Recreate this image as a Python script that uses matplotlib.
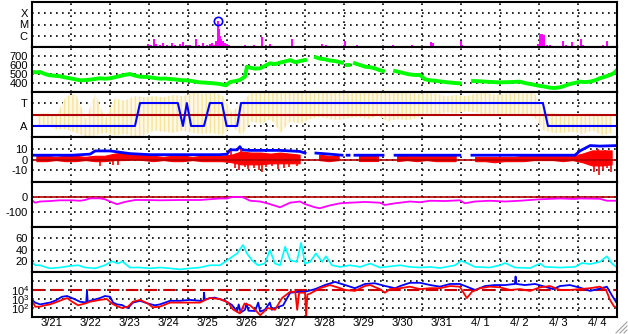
import numpy as np
import matplotlib.pyplot as plt
from matplotlib.lines import Line2D
from matplotlib.ticker import NullLocator

plt.rcParams['font.family'] = ['Liberation Sans', 'DejaVu Sans']
plt.rcParams['mathtext.fontset'] = 'custom'
plt.rcParams['mathtext.rm'] = 'Liberation Sans'
plt.rcParams['hatch.linewidth'] = 1.0

nan = np.nan

# time axis in days since 3/21 00:00
days = ['3/21', '3/22', '3/23', '3/24', '3/25', '3/26', '3/27', '3/28', '3/29',
        '3/30', '3/31', '4/ 1', '4/ 2', '4/ 3', '4/ 4']

# x-ray flares (0=B, 1=C, 2=M, 3=X)
flare_t = [2.97, 3.05, 3.12, 3.18, 3.28, 3.36, 3.46, 3.59, 3.67, 3.79, 3.87, 3.95, 4.05,
           4.20, 4.28, 4.38, 4.49, 4.56, 4.62, 4.67, 4.72, 4.78, 4.79, 4.82, 4.85, 4.90,
           4.95, 5.00, 5.05, 5.46, 5.69, 5.89, 6.10, 6.67, 7.43, 7.54, 8.02, 8.33, 9.26,
           9.74, 10.23, 10.28, 10.61, 10.99, 11.03, 11.85, 12.69, 12.97, 13.03, 13.08,
           13.13, 13.21, 13.28, 13.62, 13.69, 13.85, 14.08, 14.13, 14.63, 14.74]
flare_h = [0.3, 0.15, 0.68, 0.25, 0.15, 0.4, 0.2, 0.35, 0.15, 0.25, 0.45, 0.2, 0.15,
           0.7, 0.2, 0.35, 0.15, 0.25, 0.4, 0.2, 0.5, 2.3, 1.6, 1.0, 0.7, 0.5,
           0.35, 0.3, 0.2, 0.2, 0.15, 0.86, 0.3, 0.68, 0.3, 0.2, 0.5, 0.2, 0.2,
           0.2, 0.44, 0.35, 0.1, 0.53, 0.2, 0.1, 0.1, 0.3, 1.18, 1.18,
           1.1, 0.15, 0.15, 0.5, 0.2, 0.45, 0.7, 0.2, 0.2, 0.5]
peak_t, peak_h = 4.78, 2.3

# solar wind speed (km/s)
vsw_t = [0, 0.1, 0.21, 0.33, 0.46, 0.6, 0.72, 0.85, 1.03, 1.12, 1.23, 1.36, 1.49, 1.62, 1.74,
         1.87, 2.0, 2.13, 2.26, 2.38, 2.51, 2.64, 2.77, 2.9, 3.03, 3.15, 3.28, 3.41, 3.54,
         3.67, 3.79, 3.92, 4.05, 4.18, 4.31, 4.44, 4.56, 4.69, 4.82, 4.97, 5.08, 5.2, 5.33,
         5.46, 5.51, 5.59, 5.72, 5.85, 5.97, 6.1, 6.23, 6.36, 6.49, 6.62, 6.75, 6.87, 7.0,
         7.1, 7.28, 7.4, 7.51, 7.64, 7.77, 7.95, 8.0, 8.08, 8.12, 8.2, 8.28, 8.41, 8.54,
         8.67, 8.79, 8.9, 9.0, 9.1, 9.31, 9.44, 9.56, 9.69, 9.82, 9.95, 10.08, 10.2, 10.33,
         10.46, 10.59, 10.72, 10.85, 10.97, 11.1, 11.31, 11.49, 11.74, 12.0, 12.26, 12.51,
         12.64, 12.77, 12.9, 13.03, 13.15, 13.28, 13.41, 13.54, 13.67, 13.79, 13.92, 14.05,
         14.18, 14.31, 14.44, 14.56, 14.69, 14.82, 14.92, 15.0]
vsw = [525, 518, 522, 500, 485, 480, 475, 462, 448, 440, 430, 432, 437, 445, 452,
       448, 452, 465, 478, 490, 500, 482, 470, 468, 463, 455, 448, 450, 444,
       440, 433, 430, 426, 415, 407, 404, 400, 395, 389, 374, 411, 420, 433,
       470, 581, 570, 560, 563, 590, 619, 610, 626, 640, 655, 630, 644, 655,
       nan, 685, 670, 663, 650, 644, 626, nan, 600, 600, nan, 619, 600, 581,
       575, 563, 545, 533, nan, 533, 520, 507, 495, 489, 489, 441, 430, 426,
       418, 411, 405, 400, 396, nan, 422, 419, 412, 407, 410, 415,
       400, 389, 378, 367, 360, 348, 345, 352, 370, 389, 400, 415,
       410, 415, 430, 452, 470, 489, 510, 544]

# IMF classification scatter band (A=0, T=1), six-hour bins
imf_lo = [0.0, 0.05, -0.15, -0.15, -0.3, -0.45, -0.4, -0.3, -0.4, -0.35,
          -0.45, -0.4, -0.2, -0.25, -0.3, -0.2, -0.3, -0.35, -0.3, -0.4,
          0.0, -0.4, 0.2, 0.1, 0.3, -0.3, 0.2, 0.1, 0.3, 0.4,
          0.3, 0.25, 0.35, 0.4, 0.3, 0.45, 0.2, 0.3, 0.25, 0.35,
          0.55, 0.5, 0.6, 0.55, 0.65, 0.6, 0.5, 0.55, 0.5, 0.45,
          0.5, 0.4, -0.2, -0.3, -0.3, -0.25, -0.35, -0.2, -0.4, -0.3]
imf_hi = [0.5, 0.55, 0.45, 1.3, 1.4, 0.3, 1.4, 0.3, 1.2, 1.1,
          1.3, 1.25, 1.3, 1.25, 1.35, 1.3, 1.45, 1.4, 1.45, 1.35,
          0.6, 1.0, 1.48, 1.48, 1.48, 1.48, 1.48, 1.48, 1.48, 1.45,
          1.48, 1.48, 1.4, 1.48, 1.45, 1.48, 1.48, 1.45, 1.48, 1.4,
          1.43, 1.4, 1.3, 1.35, 1.3, 1.4, 1.45, 1.35, 1.4, 1.45,
          1.4, 1.48, 0.6, 0.55, 0.5, 0.45, 0.5, 0.55, 0.45, 0.5]
sector_t = [0, 2.64, 2.77, 3.74, 3.87, 3.97, 4.08, 4.18, 4.23, 4.41, 4.56, 4.87, 4.99,
            5.26, 5.36, 13.1, 13.23, 13.62]
sector = [0, 0, 1, 1, 0, 1, 0, 0, 0, 0, 1, 1, 0, 0, 1, 1, 0, 0]
sector_ref = 0.5

# IMF Bt and Bz (nT), Bz as six-hour min/max plus the larger spikes
bt_t = [0, 1.03, 1.49, 1.62, 2.0, 2.21, 2.51, 2.77, 3.03, 4.05, 4.82, 5.0, 5.08, 5.26, 5.33,
        5.38, 5.59, 6.36, 6.87, 7.0, 7.1, 7.28, 7.64, 7.95, 8.0, 8.08, 8.13, 8.2, 8.28,
        9.0, 9.1, 9.31, 10.97, 11.1, 11.28, 13.92, 14.05, 14.31, 14.56, 15.0]
bt = [4, 4, 5, 8, 8, 7, 5.5, 5, 4.5, 4.5, 4.5, 5, 9, 9, 12,
      9, 8.5, 8.5, 7.5, 6, nan, 6, 5, 4, nan, 4, 4, nan, 4,
      4, nan, 4, 4, nan, 4, 4, 8, 13, 12.5, 13]
bz_lo = [-2, -2, -1, -2, -2, -1, -2, -2, -1, -1, 0, -1, -2, -1, -2, -2, -1, -2, -2, -2,
         -3, -5, -5, -5, -4, -4, -4, -4, nan, -1, -2, -1, nan, -1, -1, -1, nan, -2, -1, -2,
         -1, -2, -2, -2, nan, -2, -2, -3, -2, -2, -2, -1, -1, -1, -2, -1, -3, -6, -6, -5]
bz_hi = [3, 3, 2, 3, 3, 2, 3, 3, 5, 6, 5, 4, 3, 2, 3, 3, 2, 3, 3, 3,
         4, 7, 6, 6, 5, 6, 5, 4, nan, 4, 3, 3, nan, 3, 3, 3, nan, 4, 3, 3,
         3, 3, 3, 3, nan, 2, 2, 2, 2, 2, 3, 3, 3, 3, 3, 3, 5, 8, 8, 8]
bz_spike_t = [1.74, 2.08, 2.2, 5.1, 5.2, 5.3, 5.36, 5.45, 5.55, 5.7, 5.82, 5.9, 6.0, 6.15,
              6.3, 6.45, 6.6, 6.8, 14.4, 14.5, 14.55, 14.65, 14.7, 14.75, 14.85]
bz_spike = [-6, -5, -5, 8, -8, -10, 10, -7, -9, -8, -10, -12, -7, -6,
            -9, -8, -7, -6, -12, 10, -14, -10, 9, -8, -12]

# Dst (nT)
dst_t = [0, 0.08, 0.21, 0.46, 0.72, 1.03, 1.23, 1.36, 1.49, 1.74, 1.87, 2.0, 2.18, 2.38,
         2.64, 2.97, 3.28, 3.79, 4.31, 4.56, 4.82, 5.0, 5.13, 5.38, 5.46, 5.59, 5.85, 6.1,
         6.36, 6.49, 6.62, 6.87, 7.0, 7.26, 7.38, 7.64, 7.9, 8.15, 8.54, 8.92, 9.05, 9.31,
         9.69, 9.95, 10.21, 10.59, 10.97, 11.1, 11.36, 11.74, 12.13, 12.51, 13.03, 13.54,
         13.92, 14.05, 14.56, 14.74, 15.0]
dst = [-22, -38, -30, -27, -22, -22, -25, -20, -9, -9, -15, -30, -48, -33,
       -20, -20, -22, -20, -20, -15, -10, -10, 0, 0, -8, -25, -30, -47,
       -69, -53, -38, -30, -47, -69, -75, -56, -42, -38, -33, -38, -53, -42,
       -30, -35, -25, -27, -22, -42, -30, -25, -30, -25, -15, -10,
       -13, -10, -12, -25, -25]

# proton density (p/cc)
np_t = [0, 0.08, 0.21, 0.33, 0.46, 0.72, 0.97, 1.18, 1.36, 1.62, 1.87, 2.05, 2.21, 2.31,
        2.51, 2.77, 3.03, 3.28, 3.54, 3.79, 4.05, 4.31, 4.56, 4.82, 4.95, 5.13, 5.26,
        5.41, 5.51, 5.64, 5.79, 5.97, 6.1, 6.23, 6.36, 6.49, 6.62, 6.79, 6.9, 7.0, 7.13,
        7.28, 7.44, 7.54, 7.69, 7.9, 8.15, 8.41, 8.67, 8.92, 9.18, 9.44, 9.69, 9.95,
        10.21, 10.46, 10.85, 11.0, 11.18, 11.36, 11.74, 12.0, 12.13, 12.38, 12.77, 13.03,
        13.15, 13.54, 13.92, 14.1, 14.31, 14.56, 14.74, 14.87, 15.0]
dens = [18, 12, 12, 9, 6.5, 8, 10.7, 12, 8, 6.5, 12, 19, 15, 19,
        8, 8, 6.5, 8, 6.5, 4.7, 6.5, 8, 12, 12, 18, 27, 33,
        48, 33, 21, 12, 15, 39, 15, 12, 45, 21, 18, 52, 15, 18,
        33, 18, 28, 12, 9, 12, 9, 15, 8, 10, 12, 9, 8,
        9, 7, 12, 20, 15, 9, 8, 12, 16, 8, 7, 15,
        9, 8, 9, 16, 14, 18, 28, 15, 8]

# electron flux, log10 values (blue and red channels)
eb_t = [0, 0.08, 0.21, 0.33, 0.46, 0.59, 0.77, 0.9, 1.03, 1.23, 1.39, 1.41, 1.43, 1.49,
        1.74, 1.87, 2.0, 2.08, 2.18, 2.31, 2.38, 2.46, 2.59, 2.77, 2.97, 3.15, 3.28, 3.54,
        3.79, 4.05, 4.31, 4.4, 4.41, 4.43, 4.56, 4.69, 4.95, 5.13, 5.26, 5.3, 5.35, 5.46,
        5.5, 5.55, 5.72, 5.8, 5.85, 5.97, 6.1, 6.15, 6.23, 6.44, 6.62, 6.87, 7.0, 7.26,
        7.51, 7.77, 8.03, 8.28, 8.54, 8.79, 9.05, 9.31, 9.44, 9.69, 9.95, 10.21, 10.46,
        10.72, 10.97, 11.15, 11.36, 11.62, 11.87, 12.13, 12.38, 12.4, 12.42, 12.64, 12.9,
        13.15, 13.36, 13.54, 13.79, 14.05, 14.31, 14.56, 14.74, 14.87, 15.0]
eb_log = [2.9, 2.6, 2.4, 2.5, 2.6, 2.8, 3.25, 3.33, 3.1, 2.7, 2.6, 3.9, 2.65, 2.8,
          3.1, 3.33, 3.25, 2.6, 2.4, 2.33, 2.15, 2.0, 2.6, 2.8, 2.5, 2.3, 2.4, 2.8,
          2.8, 2.9, 2.8, 2.8, 3.7, 2.9, 3.1, 3.15, 2.8, 2.33, 1.6, 2.4, 1.5, 1.8,
          2.5, 1.7, 1.67, 2.6, 1.6, 1.8, 2.6, 1.8, 2.0, 2.3, 3.7, 3.8, 3.8, 4.1,
          4.55, 4.9, 4.55, 4.2, 4.67, 4.75, 4.45, 4.2, 4.44, 4.8, 4.8, 4.55, 4.37,
          4.67, 4.67, 4.37, 4.0, 4.44, 4.55, 4.55, 4.67, 5.5, 4.67, 4.55, 4.67,
          4.37, 4.1, 4.44, 4.55, 4.26, 3.9, 4.15, 4.37, 3.4, 2.5]
er_t = [0, 0.08, 0.21, 0.33, 0.46, 0.59, 0.77, 0.9, 1.03, 1.18, 1.36, 1.49, 1.74, 1.92,
        2.05, 2.18, 2.31, 2.46, 2.59, 2.77, 2.97, 3.1, 3.28, 3.54, 3.79, 4.05, 4.31, 4.44,
        4.56, 4.82, 5.03, 5.15, 5.33, 5.45, 5.59, 5.72, 5.85, 6.05, 6.23, 6.41, 6.62, 6.75,
        6.8, 6.85, 7.0, 7.03, 7.06, 7.13, 7.38, 7.64, 7.9, 8.03, 8.28, 8.54, 8.67, 8.92,
        9.05, 9.18, 9.44, 9.69, 9.95, 10.21, 10.46, 10.72, 10.97, 11.15, 11.28, 11.49,
        11.74, 12.0, 12.26, 12.51, 12.77, 13.03, 13.28, 13.54, 13.79, 14.05, 14.31, 14.56,
        14.72, 14.82, 14.92, 15.0]
er_log = [2.9, 2.15, 2.15, 2.3, 2.4, 2.6, 2.9, 3.1, 2.7, 2.3, 2.5, 2.7, 2.9, 3.0,
          2.5, 2.2, 2.0, 2.15, 2.7, 2.9, 2.5, 2.07, 2.15, 2.6, 2.6, 2.6, 2.6, 2.9,
          3.1, 3.0, 2.6, 1.85, 1.4, 2.5, 2.3, 1.8, 1.2, 2.0, 1.8, 3.1, 3.8, 3.8,
          1.8, 3.7, 3.7, 1.0, 3.5, 3.6, 4.2, 4.55, 4.2, 4.0, 3.9, 4.45, 4.55, 4.1,
          3.7, 4.1, 4.2, 4.37, 4.1, 4.2, 4.2, 4.44, 4.37, 3.1, 3.8, 4.2,
          4.37, 4.3, 4.0, 4.1, 3.9, 4.3, 4.44, 4.0, 4.0, 4.1, 4.2, 4.37,
          4.0, 2.9, 2.2, 2.0]
e_alert = 1e4

# layout in pixels of the 628x334 figure
W, H = 628, 334
left, right, top, ph = 32, 617, 2, 45
grid_ls = (0, (1, 2.6))
darkred = '#b00000'

fig = plt.figure(figsize=(W / 100, H / 100), dpi=100)
axes = []
for i in range(7):
    y0 = top + ph * (i + 1)
    ax = fig.add_axes([left / W, 1 - y0 / H, (right - left) / W, ph / H])
    axes.append(ax)


def style(ax, ylim, yticks, ylabels):
    ax.set_xlim(0, 15)
    ax.set_ylim(*ylim)
    ax.set_xticks(np.arange(1, 15))
    ax.set_xticklabels([])
    ax.set_yticks(yticks)
    ax.set_yticklabels(ylabels)
    ax.yaxis.set_minor_locator(NullLocator())
    ax.tick_params(which='both', length=0, labelsize=8, pad=3)
    ax.grid(True, which='major', color='black', linestyle=grid_ls, linewidth=1.2)
    ax.set_axisbelow(True)
    for s in ax.spines.values():
        s.set_linewidth(1.5)


ax1, ax2, ax3, ax4, ax5, ax6, ax7 = axes
bin_mid = np.arange(60) * 0.25 + 0.125

ax1.vlines(flare_t, 0, flare_h, color='#ff00ff', linewidth=1.4)
ax1.plot([peak_t], [peak_h], 'o', mfc='none', mec='#0000ff', ms=6, mew=1.2)
style(ax1, (0, 4), [1, 2, 3], ['C', 'M', 'X'])

ax2.plot(vsw_t, vsw, color='#00ff00', linewidth=2.8)
style(ax2, (300, 800), [400, 500, 600, 700], ['400', '500', '600', '700'])

ax3.fill_between(bin_mid, imf_lo, imf_hi, facecolor='#fef9e6', edgecolor='#f7e39a',
                 hatch='||||', linewidth=0)
ax3.axhline(sector_ref, color=darkred, linewidth=1.5)
ax3.plot(sector_t + [15.0], sector + [sector[-1]], color='#0000ff', linewidth=1.5)
style(ax3, (-0.48, 1.48), [0, 1], ['A', 'T'])

ax4.plot(bt_t, bt, color='#0000ff', linewidth=2)
ax4.fill_between(bin_mid, bz_lo, bz_hi, color='#ff0000', linewidth=0.8)
ax4.vlines(bz_spike_t, 0, bz_spike, color='#ff0000', linewidth=1.2)
ax4.axhline(0, color=darkred, linewidth=1.2)
style(ax4, (-21, 21), [-10, 0, 10], ['-10', '0', '10'])

ax5.axhline(0, color=darkred, linewidth=1.2)
ax5.plot(dst_t, dst, color='#ff00ff', linewidth=1.3)
style(ax5, (-200, 100), [-100, 0], ['-100', '0'])

ax6.plot(np_t, dens, color='#00ffff', linewidth=1.2)
style(ax6, (0, 80), [20, 40, 60], ['20', '40', '60'])

ax7.set_yscale('log')
ax7.axhline(e_alert, color='#cc0000', linewidth=1.5, dashes=(6, 3))
ax7.plot(eb_t, 10 ** np.array(eb_log), color='#0000ff', linewidth=1.3)
ax7.plot(er_t, 10 ** np.array(er_log), color='#ff0000', linewidth=1.3)
style(ax7, (1e1, 1e6), [1e2, 1e3, 1e4, 1e5],
      [r'$\mathregular{10^2}$', r'$\mathregular{10^3}$', r'$\mathregular{10^4}$', ''])
ax7.set_xticks(np.arange(15) + 0.5, minor=True)
ax7.set_xticklabels(days, minor=True)
ax7.tick_params(axis='x', which='minor', length=0, labelsize=8, pad=1)
# the decade labels sit 9 px apart, so they overlap a little as in the original
ax7.tick_params(axis='y', labelsize=8, pad=2)

# window resize grip
for off in (0, 4, 8):
    fig.add_artist(Line2D([(616 + off) / W, 627 / W], [1 - 333 / H, 1 - (322 + off) / H],
                          transform=fig.transFigure, color='#a0a0a0', linewidth=0.8))

fig.savefig('out.png', dpi=100)
